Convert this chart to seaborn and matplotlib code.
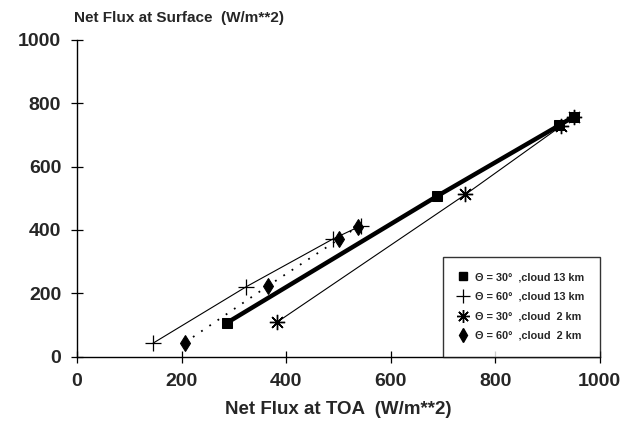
import matplotlib
matplotlib.use("Agg")
import matplotlib.pyplot as plt
import seaborn as sns
import pandas as pd

# Net flux at top of atmosphere vs. net flux at surface (W/m**2)
toa_30_13 = [287, 689, 922, 950]
sfc_30_13 = [107, 507, 730, 758]

toa_60_13 = [145, 324, 489, 543]
sfc_60_13 = [42, 221, 371, 413]

toa_30_2 = [382, 743, 926, 951]
sfc_30_2 = [108, 512, 728, 757]

toa_60_2 = [206, 365, 501, 537]
sfc_60_2 = [44, 223, 371, 410]

labels = [
    "\u0398 = 30\u00b0  ,cloud 13 km",
    "\u0398 = 60\u00b0  ,cloud 13 km",
    "\u0398 = 30\u00b0  ,cloud  2 km",
    "\u0398 = 60\u00b0  ,cloud  2 km",
]

xticks = [0, 200, 400, 600, 800, 1000]
yticks = [0, 200, 400, 600, 800, 1000]

sns.set_style("ticks")
plt.rcParams["font.family"] = ["Liberation Sans", "DejaVu Sans"]
plt.rcParams["font.weight"] = "bold"

fig = plt.figure(figsize=(6.32, 4.25), dpi=100)
ax = fig.add_axes([0.122, 0.161, 0.827, 0.745])

series = [
    (toa_30_13, sfc_30_13, dict(marker="s", markersize=7, linewidth=3.2, linestyle="-")),
    (toa_60_13, sfc_60_13, dict(marker="+", markersize=12, markeredgewidth=0.9, linewidth=0.8, linestyle="-")),
    (toa_30_2, sfc_30_2, dict(marker=(8, 2, 0), markersize=11, markeredgewidth=1.0, linewidth=0.8, linestyle="-")),
    (toa_60_2, sfc_60_2, dict(marker="d", markersize=8.5, linewidth=1.3, linestyle=(0, (1, 4.5)))),
]

handles = []
for (xs, ys, style), lab in zip(series, labels):
    df = pd.DataFrame({"toa": xs, "sfc": ys})
    sns.lineplot(data=df, x="toa", y="sfc", ax=ax, sort=False, color="black",
                 markerfacecolor="black", markeredgecolor="black", **style)
    h = plt.Line2D([], [], color="black", linestyle="none",
                   marker=style["marker"], markersize=style["markersize"] * 0.85,
                   markeredgewidth=style.get("markeredgewidth", 1.0),
                   markerfacecolor="black", markeredgecolor="black")
    handles.append(h)

ax.set_xlim(0, 1000)
ax.set_ylim(0, 1000)
ax.set_xticks(xticks)
ax.set_yticks(yticks)
ax.tick_params(direction="inout", length=9, width=0.9, labelsize=14, pad=7, color="black")
for lab in ax.get_xticklabels() + ax.get_yticklabels():
    lab.set_fontweight("bold")
for side in ("top", "right"):
    ax.spines[side].set_visible(False)
for side in ("left", "bottom"):
    ax.spines[side].set_color("black")
    ax.spines[side].set_linewidth(1.0)

ax.set_xlabel("Net Flux at TOA  (W/m**2)", fontsize=13.5, fontweight="bold", labelpad=8)
ax.set_ylabel("")
fig.text(0.117, 0.958, "Net Flux at Surface  (W/m**2)", fontsize=11,
         fontweight="bold", ha="left", va="center")

leg = ax.legend(handles, labels, loc="lower right", bbox_to_anchor=(1.0, 0.0),
                fontsize=7.8, frameon=True, fancybox=False, edgecolor="black",
                handlelength=0.9, handletextpad=0.6, borderpad=1.45,
                labelspacing=0.88, borderaxespad=0.0)
leg.get_frame().set_linewidth(1.0)
for t in leg.get_texts():
    t.set_fontweight("bold")

fig.savefig("out.png", dpi=100, facecolor="white")
